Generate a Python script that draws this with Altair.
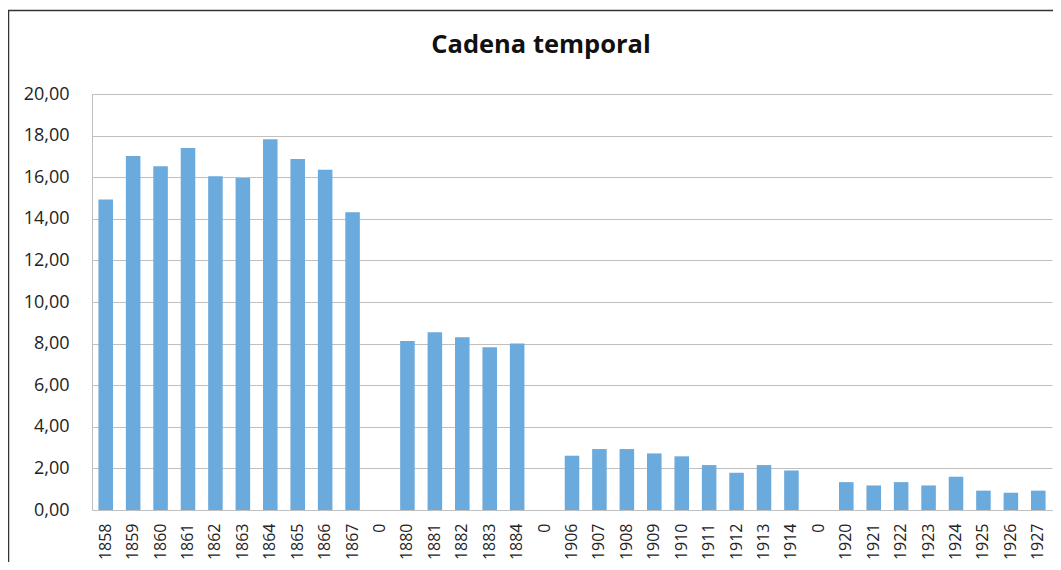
import altair as alt
import pandas as pd

# ---- data ----
title_text = "Cadena temporal"
labels = ["1858", "1859", "1860", "1861", "1862", "1863", "1864", "1865", "1866", "1867",
          "0",
          "1880", "1881", "1882", "1883", "1884",
          "0",
          "1906", "1907", "1908", "1909", "1910", "1911", "1912", "1913", "1914",
          "0",
          "1920", "1921", "1922", "1923", "1924", "1925", "1926", "1927"]
values = [14.93, 17.02, 16.53, 17.40, 16.05, 15.96, 17.82, 16.88, 16.36, 14.31,
          None,
          8.13, 8.54, 8.30, 7.82, 8.00,
          None,
          2.61, 2.93, 2.93, 2.72, 2.58, 2.16, 1.79, 2.16, 1.90,
          None,
          1.34, 1.18, 1.34, 1.18, 1.60, 0.93, 0.83, 0.93]
y_ticks = [0, 2, 4, 6, 8, 10, 12, 14, 16, 18, 20]

keys = [f"{i:02d}|{lab}" for i, lab in enumerate(labels)]
df = pd.DataFrame({"key": keys, "value": values})

FONT = "Open Sans"
BAR = "#6aaadc"
GRID = "#bfbfbf"

bars = alt.Chart(df).mark_bar(color=BAR).encode(
    x=alt.X("key:N", sort=keys, title=None,
            scale=alt.Scale(paddingInner=0.47, paddingOuter=0.235),
            axis=alt.Axis(labelAngle=270, labelFont=FONT, labelFontSize=16,
                          labelColor="#222222", labelPadding=13, ticks=False,
                          domainColor=GRID, domainWidth=1,
                          labelExpr="split(datum.label, '|')[1]")),
    y=alt.Y("value:Q", title=None,
            scale=alt.Scale(domain=[0, 20], nice=False),
            axis=alt.Axis(values=y_ticks, labelFont=FONT, labelFontSize=18,
                          labelColor="#222222", labelPadding=23, ticks=False,
                          domainColor=GRID, domainWidth=1,
                          gridColor=GRID, gridWidth=1,
                          labelExpr="replace(format(datum.value, '.2f'), '.', ',')")),
)

title_df = pd.DataFrame({"t": [title_text]})
title = alt.Chart(title_df).mark_text(
    font=FONT, fontSize=25.5, fontWeight="bold", color="#111111",
    align="center", baseline="alphabetic"
).encode(text="t:N", x=alt.value(449), y=alt.value(-41))

frame_df = pd.DataFrame({"f": [1]})
frame_left = alt.Chart(frame_df).mark_rule(color="#333333", strokeWidth=1.5).encode(
    x=alt.value(-83.5), y=alt.value(-84), y2=alt.value(600))
frame_top = alt.Chart(frame_df).mark_rule(color="#333333", strokeWidth=1.5).encode(
    x=alt.value(-84), x2=alt.value(1100), y=alt.value(-83.5))

chart = alt.layer(bars, title, frame_left, frame_top).properties(
    width=960, height=416,
    autosize="none",
    padding={"left": 84, "top": 86, "right": 1, "bottom": 52},
    background="white",
).configure_view(strokeWidth=0)

chart.save("out.html", embed_options={"renderer": "svg", "actions": False})
